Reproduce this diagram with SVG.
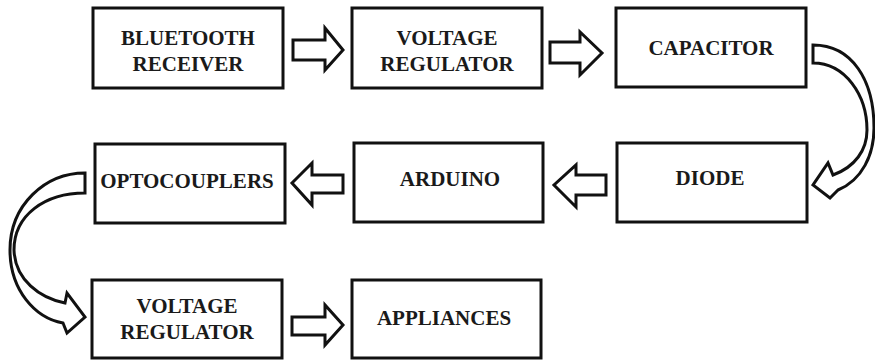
<svg xmlns="http://www.w3.org/2000/svg" width="875" height="360" viewBox="0 0 875 360">
<style>
.box{fill:#fff;stroke:#111;stroke-width:3}
.lbl{font-weight:bold;font-size:21px;fill:#1a1a1a;text-anchor:middle}
.arr{fill:#fff;stroke:#111;stroke-width:3;stroke-linejoin:miter}
</style>
<rect width="875" height="360" fill="#fff"/>
<g font-family="Liberation Serif, DejaVu Serif, serif">
<g id="bluetooth"><rect class="box" x="93" y="8" width="190" height="80"/><text class="lbl" x="188" y="45">BLUETOOTH</text><text class="lbl" x="188" y="71">RECEIVER</text></g>
<g id="vreg1"><rect class="box" x="352" y="8" width="190" height="80"/><text class="lbl" x="447" y="45">VOLTAGE</text><text class="lbl" x="447" y="71">REGULATOR</text></g>
<g id="capacitor"><rect class="box" x="616" y="8" width="190" height="79"/><text class="lbl" x="711" y="55">CAPACITOR</text></g>
<g id="diode"><rect class="box" x="617" y="143" width="190" height="79"/><text class="lbl" x="710" y="185">DIODE</text></g>
<g id="arduino"><rect class="box" x="354" y="143" width="189" height="79"/><text class="lbl" x="450" y="186">ARDUINO</text></g>
<g id="optocouplers"><rect class="box" x="95" y="144" width="190" height="79"/><text class="lbl" x="187" y="188">OPTOCOUPLERS</text></g>
<g id="vreg2"><rect class="box" x="92" y="280" width="190" height="78"/><text class="lbl" x="187" y="313">VOLTAGE</text><text class="lbl" x="187" y="339">REGULATOR</text></g>
<g id="appliances"><rect class="box" x="352" y="280" width="189" height="78"/><text class="lbl" x="444" y="325">APPLIANCES</text></g>
</g>
<g id="connectors">
<path class="arr" d="M293,40 H325 V28 L343,50 L325,70 V60 H293 Z"/>
<path class="arr" d="M550,42 H580 V32 L602,53 L580,75 V63 H550 Z"/>
<path class="arr" d="M606,175 H576 V165 L554,185 L576,207 V195 H606 Z"/>
<path class="arr" d="M343,175 H312 V163 L292,183 L312,205 V193 H343 Z"/>
<path class="arr" d="M292,317 H325 V305 L343,325 L325,345 V335 H292 Z"/>
<path class="arr" d="M813,45 L813,63 C845,63 867,95 867,130 C867,150 855,167 833,175 L828,163 L813,185 L830,198 L838,190 C862,180 874,155 874,128 C874,80 852,45 813,45 Z"/>
<path class="arr" d="M85,173 C45,173 10,205 10,250 C10,290 35,318 63,323 L67,333 L85,317 L67,293 L65,303 C40,298 15,280 14,250 C14,215 45,193 85,193 Z"/>
</g>
</svg>
